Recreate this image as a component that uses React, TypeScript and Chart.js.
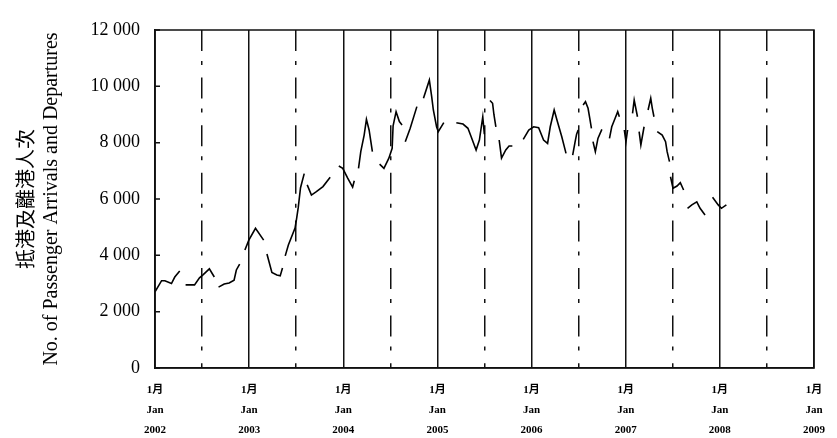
import React, { useEffect, useRef } from 'react';
import { Chart, registerables } from 'chart.js';

Chart.register(...registerables);

// x: months since January 2002 (null values break the line)
const monthOffsets: number[] = [
  0, 0.84, 1.26, 2.1, 2.52, 3.15, 3.5,
  3.9, 5.04, 5.67, 6.08, 6.93, 7.56, 7.8,
  8.1, 8.82, 9.45, 10.08, 10.37, 10.79, 11.1,
  11.46, 11.96, 12.81, 13.85, 14.05,
  14.27, 14.9, 15.53, 15.96, 16.25, 16.4,
  16.6, 17.0, 17.85, 18.05, 18.26, 18.55, 19.02, 19.2,
  19.4, 19.94, 20.57, 21.41, 22.33, 22.9,
  23.43, 23.93, 24.56, 25.19, 25.4, 25.7,
  25.94, 26.23, 26.66, 26.95, 27.29, 27.71, 28.2,
  28.63, 29.18, 29.81, 30.23, 30.35, 30.73, 31.15, 31.49, 31.7,
  31.9, 32.53, 33.38, 33.8,
  34.22, 34.97, 35.26, 35.48, 35.89, 36.11, 36.81, 37.6,
  38.41, 39.26, 39.89, 40.3, 40.93, 41.35, 41.78, 41.98, 42.3,
  42.7, 43.03, 43.2, 43.45, 43.65,
  43.87, 44.17, 44.71, 45.13, 45.55, 46.2,
  46.94, 47.64, 48.27, 48.9, 49.53, 50.04, 50.38, 50.88, 51.3, 51.85, 52.39, 52.8,
  53.24, 53.53, 53.74, 53.94, 54.2,
  54.57, 54.87, 55.2, 55.42, 55.63, 55.73,
  55.83, 56.13, 56.46, 56.96, 57.4,
  57.93, 58.22, 58.65, 58.98, 59.19, 59.5,
  59.82, 60.03, 60.24, 60.55,
  60.87, 61.08, 61.5, 61.6,
  61.71, 61.93, 62.34, 62.6,
  62.85, 63.19, 63.39, 63.6, 63.8,
  64.02, 64.65, 65.08, 65.28, 65.58, 65.65,
  65.71, 66.03, 66.54, 66.96, 67.38, 67.6,
  67.88, 68.43, 69.06, 69.48, 70.11, 70.6,
  71.07, 71.79, 72.2, 72.83,
];

// Passenger arrivals and departures
const passengers: (number | null)[] = [
  2700, 3100, 3100, 3000, 3230, 3440, null,
  2950, 2950, 3200, 3300, 3520, 3230, null,
  2870, 2980, 3020, 3120, 3480, 3690, null,
  4190, 4540, 4960, 4540, null,
  4050, 3390, 3300, 3270, 3550, null,
  3980, 4370, 4970, 5300, 5700, 6400, 6900, null,
  6500, 6140, 6260, 6440, 6770, null,
  7170, 7090, 6740, 6420, 6650, null,
  7090, 7680, 8270, 8830, 8450, 7680, null,
  7240, 7090, 7450, 7800, 8600, 9100, 8750, 8630, null,
  8035, 8510, 9280, null,
  9575, 10220, 9650, 9160, 8565, 8390, 8710, null,
  8710, 8660, 8510, 8210, 7740, 8095, 8920, 8300, null,
  9500, 9400, 9000, 8565, null,
  8095, 7450, 7740, 7880, 7880, null,
  8120, 8450, 8565, 8530, 8095, 7975, 8565, 9160, 8745, 8210, 7620, null,
  7560, 8000, 8300, 8450, null,
  9340, 9455, 9220, 8865, 8510, null,
  8035, 7680, 8150, 8470, null,
  8150, 8565, 8865, 9100, 8920, null,
  8450, 8035, 8450, null,
  9040, 9515, 8920, null,
  8390, 7920, 8565, null,
  9160, 9575, 9220, 8920, null,
  8390, 8270, 8035, 7680, 7325, null,
  6790, 6380, 6460, 6580, 6320, null,
  5670, 5790, 5900, 5670, 5430, null,
  6060, 5790, 5670, 5790,
];

const yearLabels: string[] = ['2002', '2003', '2004', '2005', '2006', '2007', '2008', '2009'];
const monthLabelZh = '1月';
const monthLabelEn = 'Jan';
const yTitleLines: string[] = ['抵港及離港人次', 'No. of Passenger Arrivals and Departures'];

const SERIF = "'Liberation Serif', 'Times New Roman', 'DejaVu Serif', 'Noto Sans CJK TC', serif";

function fmt(v: number): string {
  return String(Math.round(v)).replace(/\B(?=(\d{3})+(?!\d))/g, ' ');
}

const framePlugin = {
  id: 'frameAndInnerTicks',
  afterDraw(chart: any) {
    const { ctx, chartArea } = chart;
    const y = chart.scales.y;
    ctx.save();
    ctx.strokeStyle = '#111';
    ctx.lineWidth = 1.5;
    ctx.strokeRect(chartArea.left, chartArea.top, chartArea.right - chartArea.left, chartArea.bottom - chartArea.top);
    ctx.beginPath();
    y.ticks.forEach((t: any) => {
      const py = y.getPixelForValue(t.value);
      ctx.moveTo(chartArea.left, py);
      ctx.lineTo(chartArea.left + 5, py);
    });
    ctx.stroke();
    ctx.restore();
  },
};

export default function App() {
  const ref = useRef<HTMLCanvasElement | null>(null);

  useEffect(() => {
    if (!ref.current) return;
    const points = monthOffsets.map((m, i) => ({ x: m, y: passengers[i] }));
    const chart = new Chart(ref.current, {
      type: 'line',
      data: {
        datasets: [
          {
            data: points as any,
            borderColor: '#000',
            borderWidth: 1.6,
            pointRadius: 0,
            tension: 0,
            spanGaps: false,
            fill: false,
          },
        ],
      },
      options: {
        animation: false,
        responsive: true,
        maintainAspectRatio: false,
        layout: { padding: { top: 30, right: 15, left: 0, bottom: 0 } },
        plugins: { legend: { display: false }, tooltip: { enabled: false } },
        scales: {
          x: {
            type: 'linear',
            min: 0,
            max: 84,
            afterFit: (s: any) => {
              s.height = 70;
            },
            grid: {
              color: '#111',
              lineWidth: 1.5,
              drawTicks: false,
            },
            border: {
              display: true,
              color: '#111',
              width: 1.5,
              dash: (ctx: any) => (ctx.tick && Math.round(ctx.tick.value) % 12 === 6 ? [21, 10, 4, 12.6] : []),
            },
            ticks: {
              stepSize: 6,
              autoSkip: false,
              maxRotation: 0,
              padding: 12,
              color: '#000',
              font: { family: SERIF, size: 11, weight: 'bold', lineHeight: 1.82 },
              callback: (v: any) => {
                const m = Math.round(Number(v));
                if (m % 12 !== 0) return '';
                return [monthLabelZh, monthLabelEn, yearLabels[m / 12]];
              },
            },
          },
          y: {
            min: 0,
            max: 12000,
            afterFit: (s: any) => {
              s.width = 155;
            },
            grid: { display: false, drawTicks: false },
            border: { display: true, color: '#111', width: 1.5 },
            ticks: {
              stepSize: 2000,
              padding: 15,
              color: '#000',
              font: { family: SERIF, size: 18 },
              callback: (v: any) => fmt(Number(v)),
            },
            title: {
              display: true,
              text: yTitleLines,
              color: '#000',
              font: { family: SERIF, size: 20, lineHeight: 1.2 },
              padding: { top: 16, bottom: 0 },
            },
          },
        },
      },
      plugins: [framePlugin],
    });
    return () => chart.destroy();
  }, []);

  return (
    <div style={{ position: 'fixed', left: 0, top: 0, width: 837, height: 438, background: '#fff' }}>
      <canvas ref={ref} />
    </div>
  );
}
